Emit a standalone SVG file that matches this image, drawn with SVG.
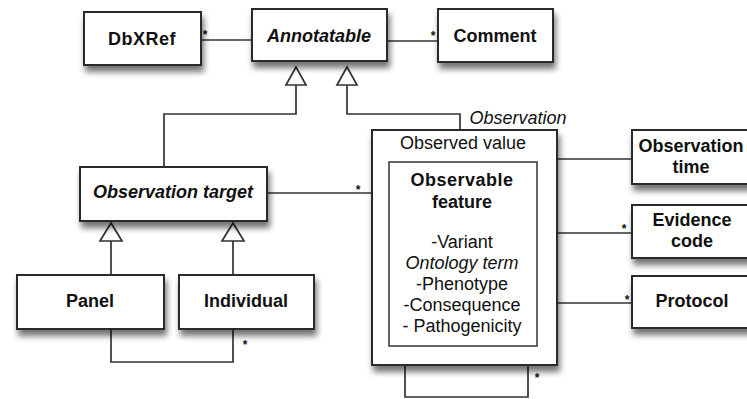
<svg xmlns="http://www.w3.org/2000/svg" width="747" height="399" viewBox="0 0 747 399">
<defs>
<filter id="sh" x="-20%" y="-20%" width="140%" height="150%">
<feGaussianBlur in="SourceAlpha" stdDeviation="3"/>
<feOffset dx="2" dy="6" result="b"/>
<feComponentTransfer><feFuncA type="linear" slope="0.55"/></feComponentTransfer>
<feMerge><feMergeNode/><feMergeNode in="SourceGraphic"/></feMerge>
</filter>
</defs>
<style>
.box{fill:#fff;stroke:#2a2a2a;stroke-width:2}
.plain{fill:#fff;stroke:#333;stroke-width:1.5}
.ln{fill:none;stroke:#333;stroke-width:1.7}
.tri{fill:#fff;stroke:#333;stroke-width:1.7}
text{font-family:"Liberation Sans",Arial,sans-serif;fill:#111;text-anchor:middle}
.b{font-weight:bold;font-size:18px}
.bi{font-weight:bold;font-style:italic;font-size:18px}
.r{font-size:18px}
.i{font-style:italic;font-size:18px}
.m{font-size:12px;font-weight:bold}
</style>
<rect width="747" height="399" fill="#fff"/>

<g id="connectors">
<line class="ln" x1="201" y1="40" x2="252" y2="40"/>
<line class="ln" x1="387" y1="41" x2="438" y2="41"/>
<polyline class="ln" points="296,85 296,114 164,114 164,167"/>
<polyline class="ln" points="347,85 347,114 460,114 460,130"/>
<polygon class="tri" points="296,67 286,85 306,85"/>
<polygon class="tri" points="347,67 337,85 357,85"/>
<line class="ln" x1="267" y1="193" x2="372" y2="193"/>
<line class="ln" x1="111" y1="241" x2="111" y2="275"/>
<line class="ln" x1="233" y1="241" x2="233" y2="275"/>
<polygon class="tri" points="111,223 100,241 122,241"/>
<polygon class="tri" points="233,223 222,241 244,241"/>
<polyline class="ln" points="111,329 111,362 233,362 233,329"/>
<line class="ln" x1="557" y1="159" x2="632" y2="159"/>
<line class="ln" x1="557" y1="233" x2="632" y2="233"/>
<line class="ln" x1="557" y1="303" x2="632" y2="303"/>
<polyline class="ln" points="405,365 405,397 528,397 528,365"/>
<text class="m" x="205" y="39">*</text>
<text class="m" x="433" y="40">*</text>
<text class="m" x="358" y="194">*</text>
<text class="m" x="245" y="349">*</text>
<text class="m" x="624" y="233">*</text>
<text class="m" x="627" y="304">*</text>
<text class="m" x="537" y="382">*</text>
</g>

<g id="dbxref">
<rect class="box" filter="url(#sh)" x="84" y="12" width="117" height="53"/>
<text class="b" x="142" y="45" style="letter-spacing:0.5px">DbXRef</text>
</g>
<g id="annotatable">
<rect class="box" filter="url(#sh)" x="252" y="9" width="135" height="52"/>
<text class="bi" x="319" y="42">Annotatable</text>
</g>
<g id="comment">
<rect class="box" filter="url(#sh)" x="438" y="9" width="115" height="53"/>
<text class="b" x="495" y="42">Comment</text>
</g>
<g id="observation-target">
<rect class="box" filter="url(#sh)" x="80" y="167" width="187" height="54"/>
<text class="bi" x="173" y="198">Observation target</text>
</g>
<g id="panel">
<rect class="box" filter="url(#sh)" x="17" y="275" width="147" height="54"/>
<text class="b" x="90" y="307">Panel</text>
</g>
<g id="individual">
<rect class="box" filter="url(#sh)" x="179" y="275" width="135" height="54"/>
<text class="b" x="246" y="307">Individual</text>
</g>
<g id="observation">
<text class="i" x="518" y="124">Observation</text>
<rect class="box" filter="url(#sh)" x="372" y="130" width="185" height="235"/>
<text class="r" x="463" y="149">Observed value</text>
<rect class="plain" x="389" y="162" width="148" height="184"/>
<text class="b" x="462" y="186" style="letter-spacing:0.5px">Observable</text>
<text class="b" x="462" y="208">feature</text>
<text class="r" x="462" y="248">-Variant</text>
<text class="i" x="462" y="269">Ontology term</text>
<text class="r" x="462" y="290">-Phenotype</text>
<text class="r" x="462" y="311">-Consequence</text>
<text class="r" x="462" y="332">- Pathogenicity</text>
</g>
<g id="observation-time">
<rect class="box" filter="url(#sh)" x="632" y="130" width="130" height="54"/>
<text class="b" x="691" y="152">Observation</text>
<text class="b" x="691" y="173">time</text>
</g>
<g id="evidence-code">
<rect class="box" filter="url(#sh)" x="632" y="205" width="130" height="53"/>
<text class="b" x="692" y="226">Evidence</text>
<text class="b" x="692" y="247">code</text>
</g>
<g id="protocol">
<rect class="box" filter="url(#sh)" x="632" y="276" width="130" height="52"/>
<text class="b" x="692" y="307">Protocol</text>
</g>
</svg>
